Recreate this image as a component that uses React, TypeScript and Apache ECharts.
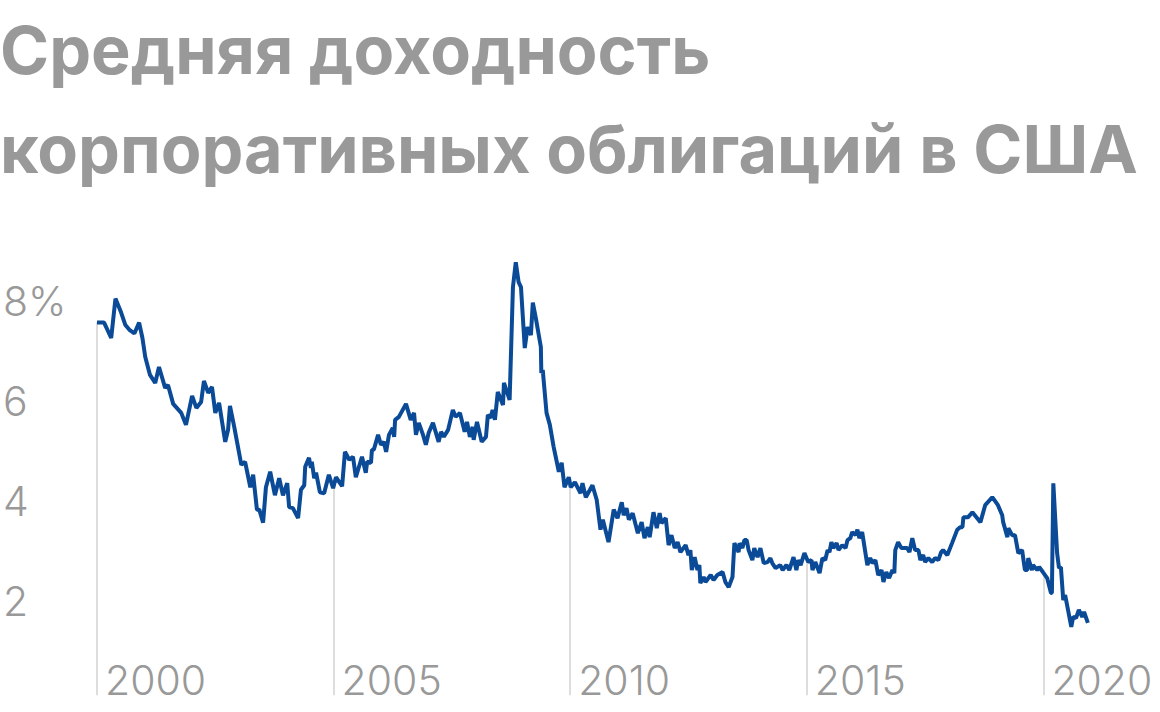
import * as echarts from 'echarts';
import React, { useEffect, useRef } from 'react';

// decimal years of the line's points
const dates = [
  2000.0, 2000.15, 2000.3, 2000.39, 2000.51, 2000.6, 2000.68, 2000.79, 2000.89, 2000.96,
  2001.02, 2001.12, 2001.23, 2001.31, 2001.44, 2001.5, 2001.61, 2001.78, 2001.88, 2002.01,
  2002.1, 2002.2, 2002.26, 2002.35, 2002.43, 2002.5, 2002.58, 2002.71, 2002.77, 2002.81,
  2002.9, 2003.05, 2003.13, 2003.24, 2003.3, 2003.38, 2003.43, 2003.51, 2003.57, 2003.66,
  2003.76, 2003.85, 2003.93, 2004.02, 2004.06, 2004.14, 2004.25, 2004.31, 2004.38, 2004.4,
  2004.48, 2004.52, 2004.54, 2004.59, 2004.63, 2004.71, 2004.8, 2004.9, 2004.99, 2005.05,
  2005.18, 2005.24, 2005.33, 2005.41, 2005.47, 2005.6, 2005.68, 2005.71, 2005.79, 2005.81,
  2005.85, 2005.94, 2006.0, 2006.06, 2006.11, 2006.17, 2006.25, 2006.28, 2006.3, 2006.38,
  2006.53, 2006.63, 2006.7, 2006.74, 2006.8, 2006.89, 2006.95, 2007.01, 2007.1, 2007.22,
  2007.27, 2007.33, 2007.42, 2007.52, 2007.58, 2007.67, 2007.77, 2007.82, 2007.88, 2007.94,
  2007.96, 2008.03, 2008.13, 2008.22, 2008.26, 2008.32, 2008.36, 2008.41, 2008.47, 2008.58,
  2008.6, 2008.72, 2008.79, 2008.85, 2008.91, 2008.96, 2009.04, 2009.1, 2009.17, 2009.21,
  2009.27, 2009.38, 2009.39, 2009.42, 2009.5, 2009.57, 2009.65, 2009.76, 2009.82, 2009.88,
  2009.97, 2010.01, 2010.1, 2010.22, 2010.26, 2010.33, 2010.47, 2010.56, 2010.64, 2010.69,
  2010.81, 2010.92, 2011.0, 2011.09, 2011.13, 2011.19, 2011.24, 2011.32, 2011.43, 2011.51,
  2011.57, 2011.64, 2011.68, 2011.76, 2011.83, 2011.89, 2011.93, 2012.02, 2012.08, 2012.14,
  2012.21, 2012.27, 2012.33, 2012.44, 2012.5, 2012.54, 2012.57, 2012.63, 2012.69, 2012.73,
  2012.75, 2012.82, 2012.86, 2012.97, 2013.03, 2013.11, 2013.22, 2013.28, 2013.35, 2013.43,
  2013.47, 2013.56, 2013.58, 2013.64, 2013.68, 2013.73, 2013.77, 2013.85, 2013.89, 2013.96,
  2014.02, 2014.09, 2014.17, 2014.23, 2014.27, 2014.34, 2014.44, 2014.49, 2014.57, 2014.63,
  2014.72, 2014.78, 2014.82, 2014.87, 2014.95, 2015.03, 2015.1, 2015.12, 2015.18, 2015.27,
  2015.33, 2015.39, 2015.44, 2015.48, 2015.52, 2015.56, 2015.63, 2015.67, 2015.75, 2015.82,
  2015.86, 2015.92, 2015.96, 2016.03, 2016.07, 2016.11, 2016.17, 2016.28, 2016.34, 2016.39,
  2016.45, 2016.51, 2016.58, 2016.62, 2016.68, 2016.74, 2016.81, 2016.85, 2016.87, 2016.93,
  2017.0, 2017.12, 2017.17, 2017.23, 2017.29, 2017.36, 2017.4, 2017.46, 2017.5, 2017.57,
  2017.65, 2017.71, 2017.78, 2017.84, 2017.88, 2017.97, 2018.07, 2018.18, 2018.24, 2018.29,
  2018.31, 2018.41, 2018.5, 2018.67, 2018.77, 2018.92, 2019.04, 2019.13, 2019.15, 2019.24,
  2019.26, 2019.34, 2019.4, 2019.47, 2019.55, 2019.61, 2019.66, 2019.68, 2019.76, 2019.78,
  2019.87, 2019.91, 2019.99, 2020.08, 2020.16, 2020.18, 2020.21, 2020.29, 2020.33, 2020.37,
  2020.42, 2020.46, 2020.59, 2020.63, 2020.69, 2020.75, 2020.82, 2020.86, 2020.94,
];

// average yield, %
const yields = [
  7.57, 7.57, 7.26, 8.05, 7.77, 7.52, 7.43, 7.35, 7.57, 7.26,
  6.88, 6.52, 6.36, 6.68, 6.26, 6.32, 5.94, 5.76, 5.52, 6.1,
  5.86, 5.98, 6.4, 6.16, 6.28, 5.76, 5.96, 5.18, 5.42, 5.9,
  5.48, 4.72, 4.78, 4.27, 4.52, 3.82, 3.82, 3.56, 4.27, 4.58,
  4.11, 4.45, 4.11, 4.35, 3.87, 3.85, 3.65, 4.22, 4.31, 4.68,
  4.86, 4.66, 4.78, 4.45, 4.56, 4.17, 4.15, 4.52, 4.25, 4.47,
  4.29, 4.98, 4.82, 4.88, 4.47, 4.88, 4.56, 4.78, 4.76, 5.02,
  5.02, 5.32, 5.12, 5.18, 4.98, 5.32, 5.46, 5.28, 5.62, 5.68,
  5.94, 5.62, 5.76, 5.32, 5.56, 5.32, 5.12, 5.36, 5.56, 5.18,
  5.38, 5.28, 5.42, 5.82, 5.68, 5.76, 5.38, 5.58, 5.28, 5.48,
  5.22, 5.58, 5.18, 5.28, 5.72, 5.66, 5.82, 5.62, 6.18, 5.92,
  6.36, 6.02, 8.28, 8.78, 8.38, 8.28, 7.06, 7.48, 7.32, 7.97,
  7.68, 7.08, 6.56, 6.62, 5.76, 5.52, 5.08, 4.58, 4.76, 4.27,
  4.47, 4.27, 4.37, 4.15, 4.35, 4.07, 4.31, 4.02, 3.42, 3.62,
  3.17, 3.82, 3.65, 3.97, 3.71, 3.85, 3.62, 3.75, 3.35, 3.57,
  3.25, 3.47, 3.27, 3.77, 3.45, 3.75, 3.55, 3.65, 3.11, 3.31,
  3.05, 3.17, 2.97, 3.11, 2.91, 3.01, 2.61, 2.87, 2.61, 2.71,
  2.35, 2.47, 2.37, 2.51, 2.41, 2.51, 2.57, 2.37, 2.27, 2.47,
  3.15, 2.97, 3.15, 3.05, 3.21, 3.21, 3.01, 2.81, 3.05, 2.87,
  3.05, 2.75, 2.77, 2.85, 2.75, 2.65, 2.71, 2.61, 2.71, 2.61,
  2.87, 2.61, 2.81, 2.71, 2.95, 2.77, 2.81, 2.61, 2.77, 2.55,
  2.85, 2.81, 3.01, 2.97, 3.17, 3.05, 3.15, 3.01, 3.11, 3.05,
  3.21, 3.25, 3.37, 3.31, 3.42, 3.25, 3.37, 2.71, 2.85, 2.75,
  2.81, 2.51, 2.61, 2.37, 2.57, 2.45, 2.61, 2.55, 3.01, 3.17,
  3.05, 3.05, 2.97, 3.25, 3.01, 3.01, 2.81, 2.91, 2.77, 2.85,
  2.77, 2.85, 2.81, 2.97, 3.01, 2.91, 3.15, 3.42, 3.47, 3.47,
  3.67, 3.67, 3.77, 3.57, 3.91, 4.07, 3.91, 3.71, 3.57, 3.27,
  3.45, 3.31, 3.31, 2.95, 3.01, 2.61, 2.61, 2.85, 2.61, 2.71,
  2.61, 2.67, 2.57, 2.45, 2.15, 2.15, 4.35, 2.95, 2.65, 2.67,
  2.01, 2.11, 1.47, 1.67, 1.65, 1.81, 1.67, 1.77, 1.55,
];

const xTicks = [2000, 2005, 2010, 2015, 2020];
const yTicks = [2, 4, 6, 8];

const title = 'Средняя доходность\nкорпоративных облигаций в США';

const GREY = '#999999';
const BLUE = '#0a4a97';
const FONT = 'Inter, "Noto Sans", sans-serif';

// value of the line at a given year, for the grey drop lines
const valueAt = (year: number) => {
  for (let i = 0; i < dates.length - 1; i++) {
    if (dates[i] <= year && year <= dates[i + 1]) {
      const t = (year - dates[i]) / (dates[i + 1] - dates[i]);
      return yields[i] + t * (yields[i + 1] - yields[i]);
    }
  }
  return yields[0];
};

const App: React.FC = () => {
  const chartRef = useRef<HTMLDivElement>(null);

  useEffect(() => {
    const chart = echarts.init(chartRef.current!, null, { renderer: 'svg' });

    const option = {
      animation: false,
      backgroundColor: '#ffffff',
      title: {
        text: title,
        left: 0,
        top: 0,
        padding: 0,
        textStyle: {
          fontFamily: FONT,
          fontWeight: 700,
          fontSize: 66.5,
          lineHeight: 99,
          color: GREY,
        },
      },
      grid: { left: 95.7, right: 69.3, top: 251.2, bottom: 11.7 },
      xAxis: {
        type: 'value',
        min: 2000,
        max: 2021,
        interval: 5,
        axisLine: { show: false },
        axisTick: { show: false },
        splitLine: { show: false },
        axisLabel: {
          formatter: (v: number) => (xTicks.includes(v) ? String(v) : ''),
          align: 'left',
          verticalAlign: 'middle',
          margin: -20,
          padding: [0, 0, 0, 8],
          fontFamily: FONT,
          fontWeight: 300,
          fontSize: 41,
          color: GREY,
        },
      },
      yAxis: {
        type: 'value',
        min: 0,
        max: 9,
        interval: 2,
        axisLine: { show: false },
        axisTick: { show: false },
        splitLine: { show: false },
        axisLabel: {
          formatter: (v: number) =>
            yTicks.includes(v) ? (v === 8 ? '8%' : String(v)) : '',
          align: 'left',
          margin: 94,
          fontFamily: FONT,
          fontWeight: 300,
          fontSize: 41,
          color: GREY,
        },
      },
      series: [
        {
          type: 'lines',
          coordinateSystem: 'cartesian2d',
          silent: true,
          z: 1,
          lineStyle: { color: '#dddddd', width: 2, opacity: 1 },
          data: xTicks.map((t) => ({ coords: [[t, 0.1], [t, valueAt(t)]] })),
        },
        {
          type: 'line',
          z: 2,
          showSymbol: false,
          silent: true,
          lineStyle: { color: BLUE, width: 4 },
          data: dates.map((d, i) => [d, yields[i]]),
        },
      ],
    };

    chart.setOption(option);

    return () => {
      chart.dispose();
    };
  }, []);

  return (
    <div
      ref={chartRef}
      style={{ position: 'fixed', left: 0, top: 0, width: 1160, height: 712, background: '#fff' }}
    />
  );
};

export default App;
